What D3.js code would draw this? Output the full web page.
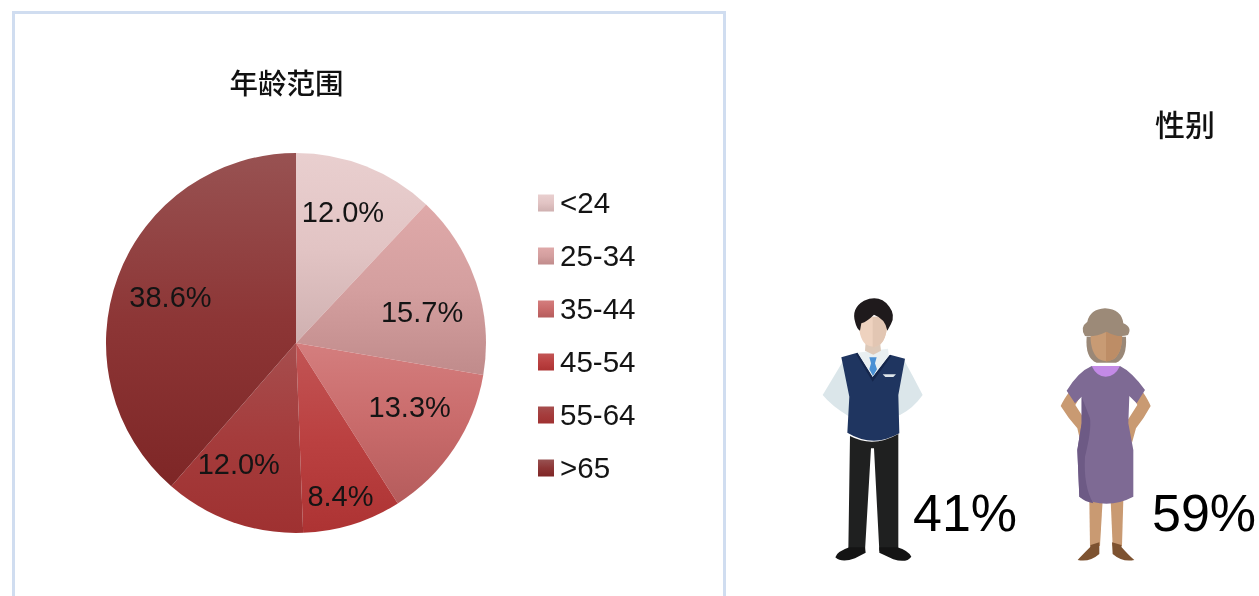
<!DOCTYPE html>
<html>
<head>
<meta charset="utf-8">
<script src="https://cdn.jsdelivr.net/npm/d3@7"></script>
<style>
  html, body { margin: 0; padding: 0; background: #fff; overflow: hidden; }
  svg { display: block; filter: blur(0.45px); }
  text { font-family: "Liberation Sans", Arial, sans-serif; fill: #141414; }
  .cjk { font-family: "Noto Sans CJK SC", sans-serif; font-weight: 500; fill: #111; }
</style>
</head>
<body>
<script>
const ageGroups = ["<24", "25-34", "35-44", "45-54", "55-64", ">65"];
const ageShares = [12.0, 15.7, 13.3, 8.4, 12.0, 38.6];
const genderLabels = ["41%", "59%"];
const ageTitle = "年龄范围";
const genderTitle = "性别";

// top, middle and bottom colour of each slice
const sliceTop = ["#e9cfcf", "#dfa9a9", "#d47e7e", "#c25555", "#a64e4e", "#985252"];
const sliceMid = ["#e2c4c4", "#d49f9f", "#c96b6b", "#bb4141", "#a53c3c", "#8d3636"];
const sliceBottom = ["#cfb0b0", "#c08b8b", "#b55c5c", "#ad3333", "#9f3131", "#7e2626"];

// nudges so labels sit where the original placed them
const labelNudge = [[-2, -8], [0, 11], [3, -10], [5, 26], [-13, -5], [-1, 0]];

const width = 1259;
const height = 596;
const cx = 296;
const cy = 343;
const radius = 190;

const svg = d3.select("body").append("svg")
  .attr("width", width)
  .attr("height", height);

const defs = svg.append("defs");

// Panel frame, runs off the bottom edge
svg.append("rect")
  .attr("x", 13.5).attr("y", 12.5)
  .attr("width", 711).attr("height", 640)
  .attr("fill", "none")
  .attr("stroke", "#d0ddf0")
  .attr("stroke-width", 3);

svg.append("text").attr("class", "cjk")
  .attr("x", 286.5).attr("y", 94)
  .attr("text-anchor", "middle")
  .attr("font-size", 28.5)
  .text(ageTitle);

svg.append("text").attr("class", "cjk")
  .attr("x", 1185).attr("y", 136)
  .attr("text-anchor", "middle")
  .attr("font-size", 30)
  .text(genderTitle);

ageGroups.forEach((d, i) => {
  const g = defs.append("linearGradient")
    .attr("id", "slice" + i)
    .attr("x1", 0).attr("y1", 0).attr("x2", 0).attr("y2", 1);
  g.append("stop").attr("offset", "0%").attr("stop-color", sliceTop[i]);
  g.append("stop").attr("offset", "50%").attr("stop-color", sliceMid[i]);
  g.append("stop").attr("offset", "100%").attr("stop-color", sliceBottom[i]);
});

// Pie
const pie = d3.pie().sort(null)(ageShares);
const arc = d3.arc().innerRadius(0).outerRadius(radius);
const labelArc = d3.arc().innerRadius(133).outerRadius(133);

const gPie = svg.append("g").attr("transform", `translate(${cx},${cy})`);

gPie.selectAll("path")
  .data(pie)
  .join("path")
  .attr("d", arc)
  .attr("fill", (d, i) => `url(#slice${i})`);

gPie.selectAll("text")
  .data(pie)
  .join("text")
  .attr("x", (d, i) => labelArc.centroid(d)[0] + labelNudge[i][0])
  .attr("y", (d, i) => labelArc.centroid(d)[1] + labelNudge[i][1])
  .attr("dy", "0.35em")
  .attr("text-anchor", "middle")
  .attr("font-size", 29)
  .text((d) => d.value.toFixed(1) + "%");

// Legend
const legendY = d3.scalePoint().domain(ageGroups).range([203, 468]);

const legend = svg.append("g").selectAll("g")
  .data(ageGroups)
  .join("g")
  .attr("transform", (d) => `translate(538,${legendY(d)})`);

legend.append("rect")
  .attr("y", -8.5)
  .attr("width", 16).attr("height", 17)
  .attr("fill", (d, i) => `url(#slice${i})`);

legend.append("text")
  .attr("x", 22)
  .attr("dy", "0.35em")
  .attr("font-size", 29.5)
  .text((d) => d);

// Man figure, drawn in a 3x local space
const man = svg.append("g").attr("transform", "translate(800,280) scale(0.3333)");
const manParts = [
  ["#dbe6ea", "M128,245 Q95,300 68,345 Q95,378 145,408 L300,405 Q340,385 368,345 Q340,290 312,240 Z"],
  ["#e9eff1", "M172,218 L264,206 L268,240 L218,295 L172,240 Z"],
  ["#ddc9b9", "M197,185 L240,185 L243,212 L220,224 L195,212 Z"],
  ["#1f3560", "M124,232 L172,218 L218,292 L270,224 L315,236 L295,345 L298,460 Q220,505 142,458 L148,350 Z"],
  ["#15264c", "M172,218 L218,292 L270,224 L274,228 L218,305 L168,222 Z"],
  ["#4a90d4", "M208,232 L230,232 L225,250 L231,268 L219,288 L208,268 L213,250 Z"],
  ["#1f2020", "M150,468 Q220,505 295,462 L295,812 L238,812 L222,505 L213,505 L195,812 L145,812 Z"],
  ["#141414", "M148,802 Q110,815 106,832 Q125,850 165,835 L197,818 L195,802 Z"],
  ["#141414", "M238,802 L238,818 L280,838 Q320,850 334,830 Q325,812 292,802 Z"],
  ["#eed2bf", "M176,110 L262,110 Q264,170 242,192 Q220,208 196,192 Q174,170 176,110 Z"],
  ["#e2c6b3", "M218,110 L262,110 Q264,170 242,192 Q230,201 218,203 Z"],
  ["#1f1a1c", "M166,128 Q152,85 192,62 Q240,42 268,80 Q287,105 273,132 L262,152 Q256,116 222,104 Q202,124 184,130 L180,152 Q170,145 166,128 Z"],
  ["#dfe6ea", "M248,283 L288,283 L280,291 L256,291 Z"]
];
man.selectAll("path").data(manParts).join("path")
  .attr("fill", (d) => d[0])
  .attr("d", (d) => d[1]);

// Woman figure, same idea
const woman = svg.append("g").attr("transform", "translate(1040,290) scale(0.3333)");
const womanParts = [
  ["#c99a72", "M88,305 Q70,330 62,348 Q85,385 112,415 L122,458 L132,440 L140,398 L106,345 L118,325 Z"],
  ["#c99a72", "M308,305 Q325,330 332,348 Q312,385 288,415 L276,458 L266,440 L258,398 L292,345 L282,325 Z"],
  ["#c99a72", "M148,630 L188,630 L180,768 L150,768 Z"],
  ["#c99a72", "M212,630 L250,630 L246,768 L218,768 Z"],
  ["#7d5230", "M178,757 L178,792 Q148,818 113,810 Q122,800 150,772 L152,765 Z"],
  ["#7d5230", "M216,757 L218,792 Q248,818 283,810 Q268,798 245,772 L244,765 Z"],
  ["#9a8877", "M140,140 Q135,205 170,218 L228,218 Q262,205 258,140 Z"],
  ["#c89b74", "M152,120 L246,120 Q250,185 222,207 Q198,220 176,207 Q148,185 152,120 Z"],
  ["#bd8d66", "M198,122 L246,120 Q250,185 222,207 Q210,214 198,215 Z"],
  ["#9c8a78", "M135,138 Q118,112 142,95 Q150,58 195,55 Q245,58 250,100 Q278,112 264,135 Q235,145 200,125 Q165,142 135,138 Z"],
  ["#7e6a94", "M155,228 L240,228 Q275,245 315,300 L290,340 L268,318 L265,400 L280,480 L280,620 Q200,662 118,620 L112,480 L125,400 L125,320 L105,340 L80,302 Q115,245 155,228 Z"],
  ["#6d5a85", "M125,320 L125,400 L112,480 L118,620 Q135,635 160,640 Q130,590 135,500 Q155,420 150,385 Z"],
  ["#c38ae6", "M155,228 L240,228 Q225,260 197,260 Q170,260 155,228 Z"]
];
woman.selectAll("path").data(womanParts).join("path")
  .attr("fill", (d) => d[0])
  .attr("d", (d) => d[1]);

// Share labels beside the figures
svg.selectAll("text.share")
  .data(genderLabels)
  .join("text")
  .attr("class", "share")
  .attr("x", (d, i) => [913, 1152][i])
  .attr("y", 531)
  .attr("font-size", 52)
  .style("fill", "#000")
  .text((d) => d);
</script>
</body>
</html>
